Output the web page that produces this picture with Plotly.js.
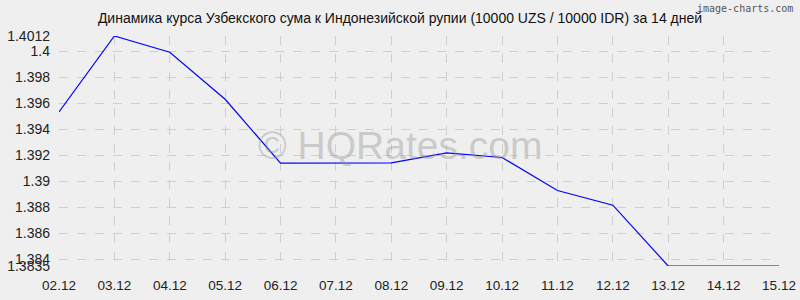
<!DOCTYPE html>
<html>
<head>
<meta charset="utf-8">
<script src="https://cdn.plot.ly/plotly-3.0.1.min.js"></script>
<style>html,body{margin:0;padding:0;background:#efefef;}#chart{width:800px;height:300px;}</style>
</head>
<body>
<div id="chart"></div>
<script>
var dates = ["02.12","03.12","04.12","05.12","06.12","07.12","08.12","09.12","10.12","11.12","12.12","13.12","14.12","15.12"];
var rates = [1.39535,1.4012,1.39995,1.39633,1.39142,1.39141,1.39143,1.39221,1.39185,1.38931,1.38818,1.3835,1.3835,1.3835];
var yTickVals = [1.3835,1.384,1.386,1.388,1.39,1.392,1.394,1.396,1.398,1.4,1.4012];
var yTickText = ["1.3835","1.384","1.386","1.388","1.39","1.392","1.394","1.396","1.398","1.4","1.4012"];
var titleText = "Динамика курса Узбекского сума к Индонезийской рупии (10000 UZS / 10000 IDR) за 14 дней";

var trace = {
  x: dates, y: rates, type: "scatter", mode: "lines",
  line: {color: "#0000ff", width: 1.2}, hoverinfo: "x+y"
};
var layout = {
  width: 800, height: 300,
  margin: {l: 59, r: 21, t: 36, b: 34},
  paper_bgcolor: "#efefef", plot_bgcolor: "#efefef",
  font: {family: "Liberation Sans, Arial, sans-serif", size: 14, color: "#222"},
  title: {text: titleText, x: 0.5, xanchor: "center", y: 0.94, yanchor: "middle", font: {size: 14, color: "#111"}},
  showlegend: false,
  xaxis: {
    type: "category", range: [0, dates.length - 1],
    showgrid: true, gridcolor: "#cfcfcf", griddash: "dash", gridwidth: 1,
    zeroline: false, showline: false, ticks: "", tickfont: {size: 13.5, color: "#222"},
    ticklabelstandoff: 9, automargin: false
  },
  yaxis: {
    range: [1.3835, 1.4012], tickmode: "array", tickvals: yTickVals, ticktext: yTickText,
    showgrid: true, gridcolor: "#cfcfcf", griddash: "dash", gridwidth: 1,
    zeroline: false, showline: false, ticks: "", tickfont: {size: 14, color: "#222"},
    ticklabelstandoff: 8, automargin: false
  },
  annotations: [
    {text: "© HQRates.com", xref: "paper", yref: "paper", x: 0.474, y: 0.525, xanchor: "center", yanchor: "middle",
     showarrow: false, font: {size: 39, color: "rgba(150,150,150,0.42)", family: "Liberation Sans, Arial, sans-serif"}},
    {text: "image-charts.com", xref: "paper", yref: "paper", x: 1.022, y: 1.118, xanchor: "right", yanchor: "middle",
     showarrow: false, font: {size: 10, color: "#555", family: "DejaVu Sans Mono, monospace"}}
  ]
};
Plotly.newPlot("chart", [trace], layout, {displayModeBar: false, staticPlot: true});
</script>
</body>
</html>
